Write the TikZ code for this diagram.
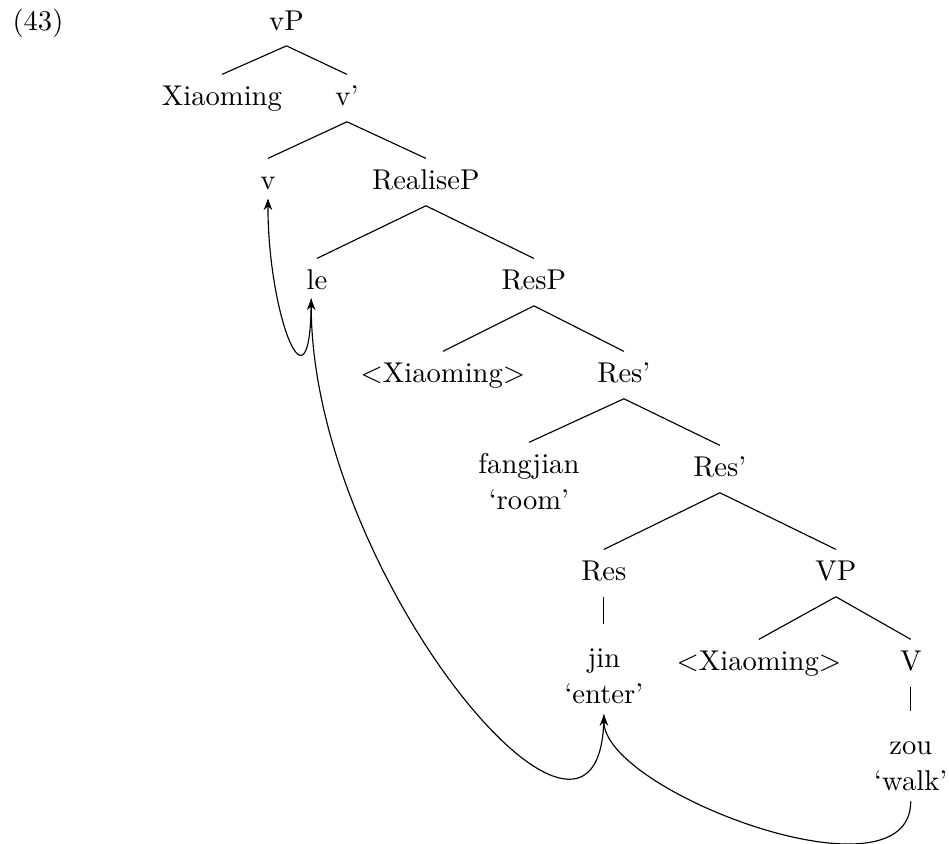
\documentclass[tikz,border=0pt]{standalone}
\usetikzlibrary{arrows.meta, positioning}

\begin{document}
\begin{tikzpicture}[
  cat/.style={anchor=base, text height=7.5pt, text depth=2pt},
  word/.style={anchor=base, text height=11.7pt, text depth=2pt},
  gloss/.style={anchor=base},
  move/.style={-{Stealth[length=4pt, width=3pt]}}
]

\useasboundingbox (0,0) rectangle (11.66,-10.37);

% Example number
\node[anchor=base west, inner sep=0pt] (num) at (0.147,-0.369) {(43)};

% Top of the tree
\node[cat] (vP) at (3.52,-0.369) {vP};
\node[cat] (spec) at (2.727,-1.302) {Xiaoming};
\node[cat] (vbar) at (4.263,-1.302) {v'};
\node[cat] (v) at (3.292,-2.334) {v};
\node[cat] (RealiseP) at (5.233,-2.334) {RealiseP};
\node[cat] (le) at (3.894,-3.563) {le};
\node[cat] (ResP) at (6.560,-3.563) {ResP};

% Res layer
\node[cat] (trace1) at (5.442,-4.705) {$<$Xiaoming$>$};
\node[cat] (Resbar) at (7.666,-4.705) {Res'};
\node[cat] (fangjian) at (6.499,-5.823) {fangjian};
\node[gloss] (room) at (6.499,-6.265) {`room'};
\node[cat] (Resbarb) at (8.845,-5.860) {Res'};
\node[cat] (Res) at (7.420,-7.138) {Res};
\node[cat] (VP) at (10.270,-7.138) {VP};
\node[word] (jin) at (7.420,-8.206) {jin};
\node[gloss] (enter) at (7.420,-8.649) {`enter'};

% Lower VP
\node[cat] (trace2) at (9.324,-8.243) {$<$Xiaoming$>$};
\node[cat] (V) at (11.19,-8.243) {V};
\node[word] (zou) at (11.19,-9.275) {zou};
\node[gloss] (walk) at (11.19,-9.717) {`walk'};

% Branches
\draw (vP.south) -- (spec.north);
\draw (vP.south) -- (vbar.north);
\draw (vbar.south) -- (v.north);
\draw (vbar.south) -- (RealiseP.north);
\draw (RealiseP.south) -- (le.north);
\draw (RealiseP.south) -- (ResP.north);
\draw (ResP.south) -- (trace1.north);
\draw (ResP.south) -- (Resbar.north);
\draw (Resbar.south) -- (fangjian.north);
\draw (Resbar.south) -- (Resbarb.north);
\draw (Resbarb.south) -- (Res.north);
\draw (Resbarb.south) -- (VP.north);
\draw (Res.south) -- (jin.north);
\draw (VP.south) -- (trace2.north);
\draw (VP.south) -- (V.north);
\draw (V.south) -- (zou.north);

% Head movement
\draw[move] ([xshift=-2pt, yshift=2.5pt]le.south) .. controls +(0,-1.55) and +(0,-1.45) .. ([yshift=2.5pt]v.south);
\draw[move] (enter.south) .. controls +(0,-2.6) and +(0,-3.4) .. ([xshift=-2pt, yshift=2.5pt]le.south);
\draw[move] (walk.south) .. controls +(0,-1.3) and +(0,-0.95) .. (enter.south);

\end{tikzpicture}
\end{document}
